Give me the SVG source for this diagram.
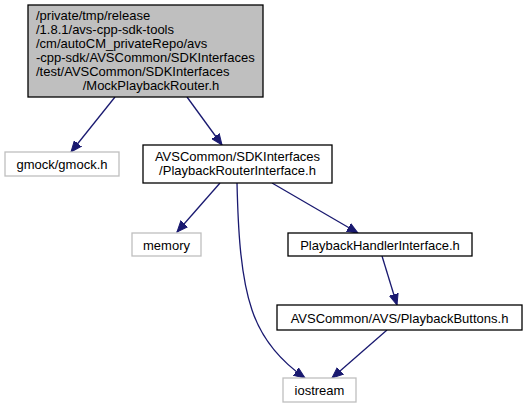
<svg xmlns="http://www.w3.org/2000/svg" width="528" height="409" viewBox="0 0 528 409">
<style>
text{font-family:"Liberation Sans",Arial,sans-serif;font-size:13px;fill:#000}
.c{text-anchor:middle}
.box{fill:#fff;stroke:#000;stroke-width:1.3}
.ext{fill:#fff;stroke:#bfbfbf;stroke-width:1.3}
.root{fill:#bfbfbf;stroke:#000;stroke-width:1.3}
.e{fill:none;stroke:#191970;stroke-width:1.3}
</style>
<defs>
<marker id="ah" markerUnits="userSpaceOnUse" markerWidth="12" markerHeight="10" viewBox="0 0 12 10" refX="11" refY="5" orient="auto">
<polygon points="0,0.5 11,5 0,9.5" fill="#191970" stroke="#191970"/>
</marker>
</defs>
<g id="edges">
<path class="e" marker-end="url(#ah)" d="M115,97 L71,152"/>
<path class="e" marker-end="url(#ah)" d="M187,97 L222,145"/>
<path class="e" marker-end="url(#ah)" d="M220,183 L177,232"/>
<path class="e" marker-end="url(#ah)" d="M272,183 L358,233"/>
<path class="e" marker-end="url(#ah)" d="M237,183 C238,225 240,275 252,310 C262,340 282,362 305,378"/>
<path class="e" marker-end="url(#ah)" d="M382,256 L397,305"/>
<path class="e" marker-end="url(#ah)" d="M387,330 L332,378"/>
</g>
<g id="root">
<rect class="root" x="28" y="5" width="235" height="92"/>
<text x="36" y="20">/private/tmp/release</text>
<text x="36" y="34">/1.8.1/avs-cpp-sdk-tools</text>
<text x="36" y="48">/cm/autoCM_privateRepo/avs</text>
<text x="36" y="62">-cpp-sdk/AVSCommon/SDKInterfaces</text>
<text x="36" y="76">/test/AVSCommon/SDKInterfaces</text>
<text class="c" x="151" y="90">/MockPlaybackRouter.h</text>
</g>
<g id="gmock">
<rect class="ext" x="5" y="152" width="114" height="24"/>
<text class="c" x="62" y="168.5">gmock/gmock.h</text>
</g>
<g id="pri">
<rect class="box" x="143" y="145" width="189" height="38"/>
<text class="c" x="237.5" y="161">AVSCommon/SDKInterfaces</text>
<text class="c" x="237.5" y="175">/PlaybackRouterInterface.h</text>
</g>
<g id="memory">
<rect class="ext" x="132" y="233" width="69" height="23"/>
<text class="c" x="166.5" y="249.5">memory</text>
</g>
<g id="phi">
<rect class="box" x="288" y="233" width="184" height="23"/>
<text class="c" x="380" y="249.5">PlaybackHandlerInterface.h</text>
</g>
<g id="buttons">
<rect class="box" x="277" y="305" width="245" height="25"/>
<text class="c" x="399.5" y="322.5">AVSCommon/AVS/PlaybackButtons.h</text>
</g>
<g id="iostream">
<rect class="ext" x="283" y="378" width="73" height="24"/>
<text class="c" x="319.5" y="394.5">iostream</text>
</g>
</svg>
